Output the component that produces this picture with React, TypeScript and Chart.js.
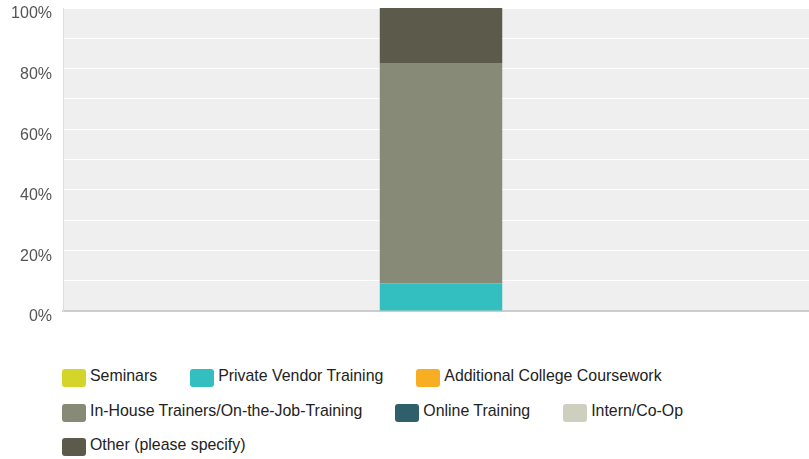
import React, { useEffect, useRef } from "react";
import { Chart, registerables } from "chart.js";

Chart.register(...registerables);

const categories = [""];
const seriesNames = [
  "Seminars",
  "Private Vendor Training",
  "Additional College Coursework",
  "In-House Trainers/On-the-Job-Training",
  "Online Training",
  "Intern/Co-Op",
  "Other (please specify)",
];
const seriesColors = ["#d3d52a", "#33bebf", "#f8ae22", "#888a78", "#2f5f6b", "#cfcfbf", "#5c5a4b"];
const seriesValues = [[0], [9.09], [0], [72.73], [0], [0], [18.18]];
const yTicks = [0, 10, 20, 30, 40, 50, 60, 70, 80, 90, 100];

const plotBg = {
  id: "plotBg",
  beforeDraw(chart: any) {
    const { ctx, chartArea } = chart;
    ctx.save();
    ctx.fillStyle = "#efefef";
    ctx.fillRect(chartArea.left, chartArea.top, chartArea.right - chartArea.left, chartArea.bottom - chartArea.top);
    ctx.restore();
  },
};

export default function App() {
  const ref = useRef<HTMLCanvasElement | null>(null);
  useEffect(() => {
    if (!ref.current) return;
    const chart = new Chart(ref.current, {
      type: "bar",
      data: {
        labels: categories,
        datasets: seriesNames.map((n, i) => ({
          label: n,
          data: seriesValues[i],
          backgroundColor: seriesColors[i],
          borderWidth: 0,
          barPercentage: 1,
          categoryPercentage: 0.162,
        })),
      },
      options: {
        animation: false,
        responsive: false,
        maintainAspectRatio: false,
        layout: { padding: { top: 0, right: 0, bottom: 19, left: 0 } },
        plugins: { legend: { display: false }, tooltip: { enabled: false } },
        scales: {
          x: {
            stacked: true,
            grid: { display: false, drawTicks: false },
            ticks: { display: false },
            border: { display: true, color: "#cccccc", width: 2 },
          },
          y: {
            stacked: true,
            min: 0,
            max: 100,
            afterBuildTicks: (scale: any) => {
              scale.ticks = yTicks.map((v) => ({ value: v }));
            },
            afterFit: (scale: any) => {
              scale.width = 63;
              scale.paddingTop = 8;
              scale.paddingBottom = 0;
            },
            grid: { color: "#ffffff", lineWidth: 1, drawTicks: false },
            border: { display: true, color: "#dedede", width: 1 },
            ticks: {
              padding: 11,
              labelOffset: 6,
              color: "#555555",
              font: { family: "Liberation Sans, Arial, sans-serif", size: 16 },
              callback: (v: any) => (Number(v) % 20 === 0 ? v + "%" : ""),
            },
          },
        },
      },
      plugins: [plotBg],
    });
    return () => chart.destroy();
  }, []);

  return (
    <div style={{ position: "fixed", left: 0, top: 0, width: 809, height: 459, overflow: "hidden", background: "#fff" }}>
      <canvas ref={ref} width={819} height={330} style={{ position: "absolute", left: 0, top: 0, width: 819, height: 330 }} />
      <div
        style={{
          position: "absolute",
          left: 62,
          top: 369,
          width: 740,
          display: "flex",
          flexWrap: "wrap",
          columnGap: 33,
          rowGap: 16.5,
          fontFamily: "Liberation Sans, Arial, sans-serif",
          fontSize: 15.9,
          color: "#222",
        }}
      >
        {seriesNames.map((n, i) => (
          <div key={n} style={{ display: "flex", alignItems: "center", height: 18 }}>
            <span
              style={{
                display: "inline-block",
                width: 24,
                height: 18,
                borderRadius: 3,
                background: seriesColors[i],
                marginRight: 4,
              }}
            />
            <span style={{ position: "relative", top: -2, whiteSpace: "nowrap" }}>{n}</span>
          </div>
        ))}
      </div>
    </div>
  );
}
